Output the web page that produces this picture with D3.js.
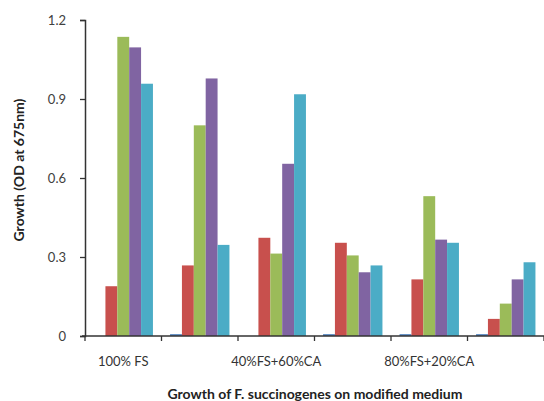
<!DOCTYPE html>
<html>
<head>
<meta charset="utf-8">
<script src="https://cdn.jsdelivr.net/npm/d3@7"></script>
<style>
  html, body { margin: 0; padding: 0; background: #fff; }
  svg { display: block; }
</style>
</head>
<body>
<div id="chart"></div>
<script>
// Media compositions (only every other one is labelled on the axis)
const categories = ["100% FS", "20%FS+80%CA", "40%FS+60%CA", "60%FS+40%CA", "80%FS+20%CA", "100% CA"];
const shownLabels = ["100% FS", "", "40%FS+60%CA", "", "80%FS+20%CA", ""];

const seriesNames = ["S1", "S2", "S3", "S4", "S5"];
const seriesColors = ["#4F81BD", "#C8504D", "#9BBB59", "#8064A2", "#4BACC6"];

// Optical density readings per series, one value per medium
const s1Values = [0.000, 0.007, 0.000, 0.007, 0.007, 0.007];
const s2Values = [0.189, 0.268, 0.373, 0.354, 0.215, 0.065];
const s3Values = [1.136, 0.800, 0.313, 0.306, 0.531, 0.123];
const s4Values = [1.096, 0.978, 0.654, 0.242, 0.366, 0.215];
const s5Values = [0.958, 0.346, 0.918, 0.268, 0.354, 0.280];

const yTicks = [0, 0.3, 0.6, 0.9, 1.2];
const yTickLabels = ["0", "0.3", "0.6", "0.9", "1.2"];

const seriesValues = [s1Values, s2Values, s3Values, s4Values, s5Values];

const width = 544, height = 401;
const margin = { top: 20, right: 0, bottom: 65, left: 85 };

const svg = d3.select("#chart").append("svg")
  .attr("width", width).attr("height", height);

const x0 = d3.scaleBand()
  .domain(d3.range(categories.length))
  .range([margin.left, margin.left + 6 * 76.5])
  .padding(0);

const x1 = d3.scaleBand()
  .domain(d3.range(seriesNames.length))
  .range([0, x0.bandwidth()])
  .paddingInner(0)
  .paddingOuter(0.72);

const y = d3.scaleLinear()
  .domain([0, 1.2])
  .range([height - margin.bottom, margin.top]);

const font = "Lato, 'Open Sans', sans-serif";

// Bars
const groups = svg.append("g").selectAll("g")
  .data(categories.map((c, i) => i))
  .join("g")
  .attr("transform", i => `translate(${x0(i)},0)`);

groups.selectAll("rect")
  .data(i => seriesValues.map((vals, s) => ({ s, v: vals[i] })))
  .join("rect")
  .attr("x", d => x1(d.s))
  .attr("width", x1.bandwidth())
  .attr("y", d => y(d.v))
  .attr("height", d => y(0) - y(d.v))
  .attr("fill", d => seriesColors[d.s]);

// Y axis
const yAxis = d3.axisLeft(y)
  .tickValues(yTicks)
  .tickFormat((d, i) => yTickLabels[i])
  .tickSize(5)
  .tickPadding(14);

const gy = svg.append("g")
  .attr("transform", `translate(${margin.left},0)`)
  .call(yAxis);
gy.select(".domain").attr("stroke", "#333").attr("stroke-width", 1.5);
gy.selectAll(".tick line").attr("stroke", "#333").attr("stroke-width", 1.3);
gy.selectAll(".tick text")
  .attr("fill", "#404040")
  .style("font-family", font)
  .style("font-size", "13px");

// X axis: ticks at group boundaries, labels centred under groups
const xEdges = d3.range(categories.length + 1).map(i =>
  i < categories.length ? x0(i) : x0(categories.length - 1) + x0.bandwidth());

const gx = svg.append("g");
gx.append("line")
  .attr("x1", margin.left - 3).attr("x2", xEdges[xEdges.length - 1])
  .attr("y1", y(0)).attr("y2", y(0))
  .attr("stroke", "#333").attr("stroke-width", 1.5);
gx.selectAll("line.tk")
  .data(xEdges)
  .join("line")
  .attr("class", "tk")
  .attr("x1", d => d).attr("x2", d => d)
  .attr("y1", y(0)).attr("y2", y(0) + 5)
  .attr("stroke", "#333").attr("stroke-width", 1.3);
gx.selectAll("text")
  .data(shownLabels)
  .join("text")
  .attr("x", (d, i) => x0(i) + x0.bandwidth() / 2)
  .attr("y", y(0) + 30)
  .attr("text-anchor", "middle")
  .attr("fill", "#333")
  .style("font-family", font)
  .style("font-size", "13px")
  .text(d => d);

// Axis titles
svg.append("text")
  .attr("transform", `translate(18,${(y(0) + y(1.2)) / 2 - 8}) rotate(-90)`)
  .attr("text-anchor", "middle")
  .attr("dominant-baseline", "central")
  .attr("fill", "#222")
  .style("font-family", font)
  .style("font-size", "14px")
  .style("font-weight", "bold")
  .text("Growth (OD at 675nm)");

svg.append("text")
  .attr("x", 315)
  .attr("y", 399)
  .attr("text-anchor", "middle")
  .attr("fill", "#222")
  .style("font-family", font)
  .style("font-size", "14px")
  .style("font-weight", "bold")
  .text("Growth of F. succinogenes  on modified medium");
</script>
</body>
</html>
